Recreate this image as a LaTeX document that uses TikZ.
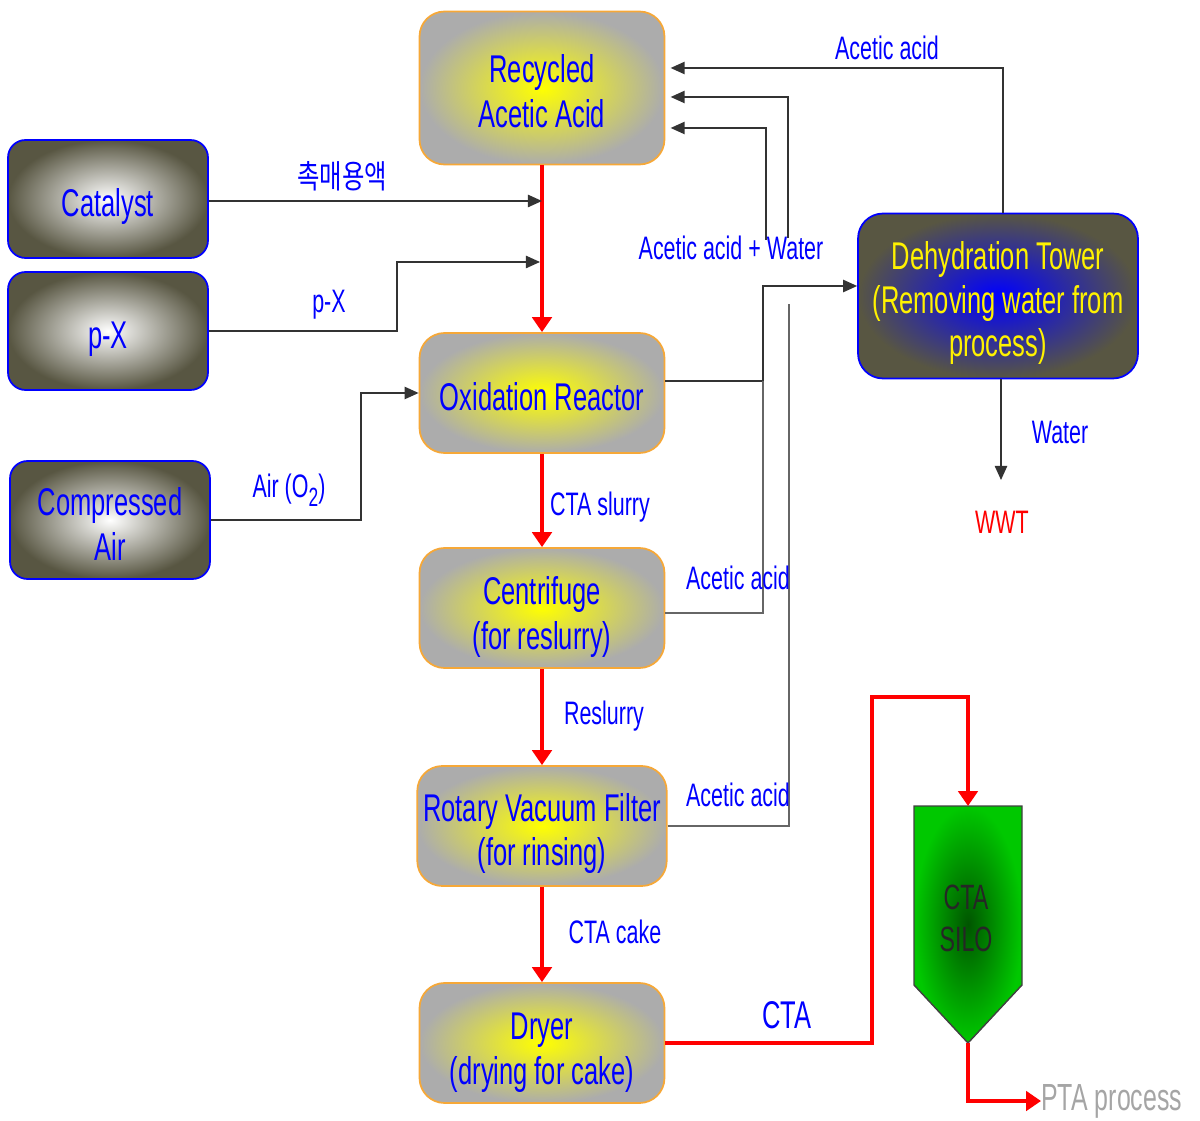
\documentclass[tikz,border=0pt]{standalone}
\usepackage{fontspec}
\setmainfont[FakeStretch=0.66]{Liberation Sans}
\newfontfamily\krfont[FakeStretch=0.75]{Noto Sans CJK KR}
\usetikzlibrary{arrows.meta}
\definecolor{boxgray}{RGB}{172,172,172}
\definecolor{boxorange}{RGB}{246,168,56}
\definecolor{darkolive}{RGB}{88,86,66}
\definecolor{silogreen}{RGB}{0,200,0}
\definecolor{silodark}{RGB}{0,85,0}
\definecolor{ptagray}{RGB}{165,165,165}
\newcommand\lift[1]{\rule{0pt}{#1}}
\tikzset{
	unitbox/.style={rounded corners=0.5cm, draw=boxorange, line width=1pt, inner color=yellow, outer color=boxgray,
		minimum width=4.9cm, minimum height=2.4cm, align=center, text=blue, font=\fontsize{22}{25.5}\selectfont},
	feedbox/.style={rounded corners=0.35cm, draw=blue, line width=1pt, inner color=white, outer color=darkolive,
		minimum width=4cm, minimum height=2.36cm, align=center, text=blue, font=\fontsize{22}{25.5}\selectfont},
	towerbox/.style={rounded corners=0.5cm, draw=blue, line width=1pt, inner color=blue, outer color=darkolive,
		minimum width=5.6cm, minimum height=3.3cm, align=center, text=yellow, font=\fontsize{22}{24.7}\selectfont},
	lbl/.style={text=blue, font=\fontsize{18.5}{21}\selectfont},
	flow/.style={draw=black!80, line width=0.9pt, -{Triangle[length=8pt,width=7pt]}},
	line/.style={draw=black!60, line width=0.9pt},
	redflow/.style={draw=red, line width=2.3pt, -{Triangle[length=8.5pt,width=11pt]}}
}
\begin{document}
\begin{tikzpicture}[x=0.02cm,y=-0.02cm]
	\useasboundingbox (0,0) rectangle (1200,1121);
	\node[unitbox, minimum height=3.06cm] (rec) at (542,88) {\lift{20pt}Recycled\\Acetic Acid};
	\node[unitbox] (oxi) at (542,393) {\lift{20.5pt}Oxidation Reactor};
	\node[unitbox] (cen) at (542,608) {\lift{26pt}Centrifuge\\(for reslurry)};
	\node[unitbox] (rvf) at (542,826) {\lift{24.5pt}Rotary Vacuum Filter\\(for rinsing)};
	\node[unitbox] (dry) at (542,1043) {\lift{26pt}Dryer\\(drying for cake)};
	\node[feedbox] (cat) at (108,199) {\lift{25pt}Catalyst};
	\node[feedbox] (px) at (108,331) {\lift{25pt}p-X};
	\node[feedbox] (air) at (110,520) {\lift{20.5pt}Compressed\\Air};
	\node[towerbox] (dehy) at (998,296) {\lift{24pt}Dehydration Tower\\(Removing water from\\process)};
	\coordinate (silotop) at (968,806);
	\coordinate (silotip) at (968,1043);
	\shade[inner color=silodark, outer color=silogreen] (914,806) -- (1022,806) -- (1022,985) -- (silotip) -- (914,985) -- cycle;
	\draw[black!75, line width=0.8pt] (914,806) -- (1022,806) -- (1022,985) -- (silotip) -- (914,985) -- cycle;
	\node[align=center, text=black!85, font=\fontsize{20}{24}\selectfont] (silo) at (966,918) {CTA\\SILO};
	\coordinate (pxin) at (540,262);
	\coordinate (j1) at (763,381);
	\coordinate (rvftop) at (789,304);
	\coordinate (aw1) at (788,238);
	\coordinate (aw2) at (766,240);
	\coordinate (wwtin) at (1001,480);
	\coordinate (cor) at (872,697);
	\draw[redflow] (rec) -- (oxi);
	\draw[redflow] (oxi) -- (cen);
	\draw[redflow] (cen) -- (rvf);
	\draw[redflow] (rvf) -- (dry);
	\draw[redflow] (dry.east) -| (cor) -| (silotop);
	\draw[flow] ([yshift=-0.04cm]cat.east) -- ([yshift=-0.04cm]cat.east -| rec.south);
	\draw[flow] (px.east) -- ++(188,0) |- (pxin);
	\draw[flow] (air.east) -- ++(150,0) |- (oxi.west);
	\draw[flow] ([yshift=0.24cm]oxi.east) -| (j1) |- ([yshift=0.2cm]dehy.west);
	\draw[line] ([yshift=-0.1cm]cen.east) -| (j1);
	\draw[line] (rvf.east) -| (rvftop);
	\draw[flow, shorten >=3pt] ([xshift=0.1cm]dehy.north) |- ([yshift=0.4cm]rec.east);
	\draw[flow, shorten >=3pt] (aw1) |- ([yshift=-0.18cm]rec.east);
	\draw[flow, shorten >=3pt] (aw2) |- ([yshift=-0.8cm]rec.east);
	\draw[flow] (dehy.south -| wwtin) -- (wwtin);
	\node[lbl, font=\krfont\fontsize{18.5}{21}\selectfont] (kr) at (342,176) {촉매용액};
	\node[lbl] (pxl) at (329,305) {p-X};
	\node[lbl] (airl) at (289,490) {Air (O\raisebox{-0.5ex}{\fontsize{15}{15}\selectfont 2})};
	\node[lbl] (aa1) at (887,48) {Acetic acid};
	\node[lbl] (aaw) at (731,248) {Acetic acid + Water};
	\node[lbl] (slurry) at (600,507) {CTA slurry};
	\node[lbl] (resl) at (604,716) {Reslurry};
	\node[lbl] (cake) at (615,932) {CTA cake};
	\node[lbl] (aa2) at (738,578) {Acetic acid};
	\node[lbl] (aa3) at (738,795) {Acetic acid};
	\node[lbl] (water) at (1060,432) {Water};
	\node[lbl, text=red] (wwt) at (1002,522) {WWT};
	\node[lbl, font=\fontsize{22}{25}\selectfont] (cta) at (787,1015) {CTA};
	\node[text=ptagray, font=\fontsize{21.5}{25}\selectfont, anchor=west, inner sep=0pt] (pta) at (1041,1101) {PTA process};
	\draw[redflow] (silotip) |- (pta.west);
\end{tikzpicture}
\end{document}
